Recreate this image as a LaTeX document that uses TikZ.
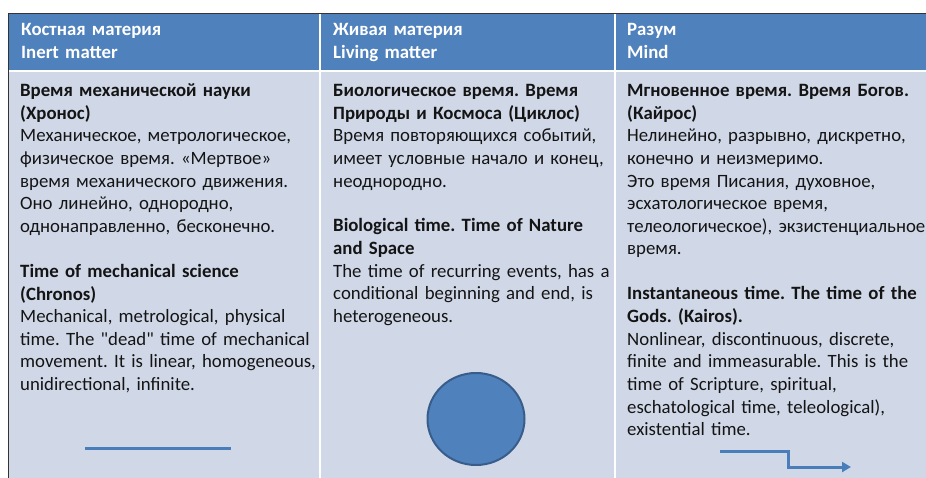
\documentclass[tikz,border=0pt]{standalone}
\usepackage{fontspec}
\setmainfont[WordSpace=0.8]{Carlito}
\usetikzlibrary{arrows.meta,shapes.geometric}
\definecolor{hdr}{HTML}{4F81BD}
\definecolor{bodyc}{HTML}{D0D8E8}
\definecolor{shpline}{HTML}{385D8A}
\definecolor{lnc}{HTML}{4A7EBB}
\definecolor{txt}{HTML}{141414}
\begin{document}
\frenchspacing
\begin{tikzpicture}[x=1pt,y=-1pt,
  celltext/.style={anchor=base west, inner sep=0pt, text width=310pt, align=left,
    font=\fontsize{18.8}{22.6}\selectfont, text=txt},
  hdrtext/.style={celltext, text=white, font=\fontsize{18.8}{22.6}\selectfont\bfseries},
  divider/.style={draw=white, line width=2pt},
  shapeline/.style={draw=lnc, line width=3pt}]
\useasboundingbox (0,0) rectangle (926,478);
\fill[white] (0,0) rectangle (926,478);
% table backgrounds
\fill[hdr] (8,13) rectangle (926,70);
\fill[bodyc] (8,72) rectangle (926,478);
\draw[divider] (8,71) -- (926,71);
\draw[divider] (320,13) -- (320,478);
\draw[divider] (615,13) -- (615,478);
\draw[black!80, line width=1.2pt] (8.5,478) -- (8.5,13.5) -- (926,13.5);
% headers
\node[hdrtext] (h1) at (21,36) {Костная материя\\Inert matter};
\node[hdrtext] (h2) at (333,36) {Живая материя\\Living matter};
\node[hdrtext] (h3) at (627,36) {Разум\\Mind};
% column 1
\node[celltext] (c1ru) at (20,96.7) {{\bfseries Время механической науки\\(Хронос)}\\
Механическое, метрологическое,\\физическое время. «Мертвое»\\время механического движения.\\Оно линейно, однородно,\\однонаправленно, бесконечно.};
\node[celltext] (c1en) at (20,277.5) {{\bfseries Time of mechanical science\\(Chronos)}\\
Mechanical, metrological, physical\\time. The \textquotedbl dead\textquotedbl{} time of mechanical\\movement. It is linear, homogeneous,\\unidirectional, infinite.};
% column 2
\node[celltext] (c2ru) at (333,96.7) {{\bfseries Биологическое время. Время\\Природы и Космоса (Циклос)}\\
Время повторяющихся событий,\\имеет условные начало и конец,\\неоднородно.};
\node[celltext] (c2en) at (333,232) {{\bfseries Biological time. Time of Nature\\and Space}\\
The time of recurring events, has a\\conditional beginning and end, is\\heterogeneous.};
% column 3
\node[celltext] (c3ru) at (627,96.7) {{\bfseries Мгновенное время. Время Богов.\\(Кайрос)}\\
Нелинейно, разрывно, дискретно,\\конечно и неизмеримо.\\Это время Писания, духовное,\\эсхатологическое время,\\телеологическое), экзистенциальное\\время.};
\node[celltext] (c3en) at (627,300) {{\bfseries Instantaneous time. The time of the\\Gods. (Kairos).}\\
Nonlinear, discontinuous, discrete,\\finite and immeasurable. This is the\\time of Scripture, spiritual,\\eschatological time, teleological),\\existential time.};
% symbols
\coordinate (l1) at (85,448);
\coordinate (l2) at (231,448);
\draw[shapeline] (l1) -- (l2);
\node[draw=shpline, fill=hdr, line width=2pt, ellipse, minimum width=97pt, minimum height=92pt, inner sep=0pt] (circ) at (476,419) {};
\coordinate (a1) at (720,451);
\coordinate (a2) at (788,451);
\coordinate (a3) at (788,467);
\coordinate (a4) at (851,467);
\draw[shapeline, -{Triangle[length=9pt,width=10pt]}] (a1) -- (a2) -- (a3) -- (a4);
\end{tikzpicture}
\end{document}
